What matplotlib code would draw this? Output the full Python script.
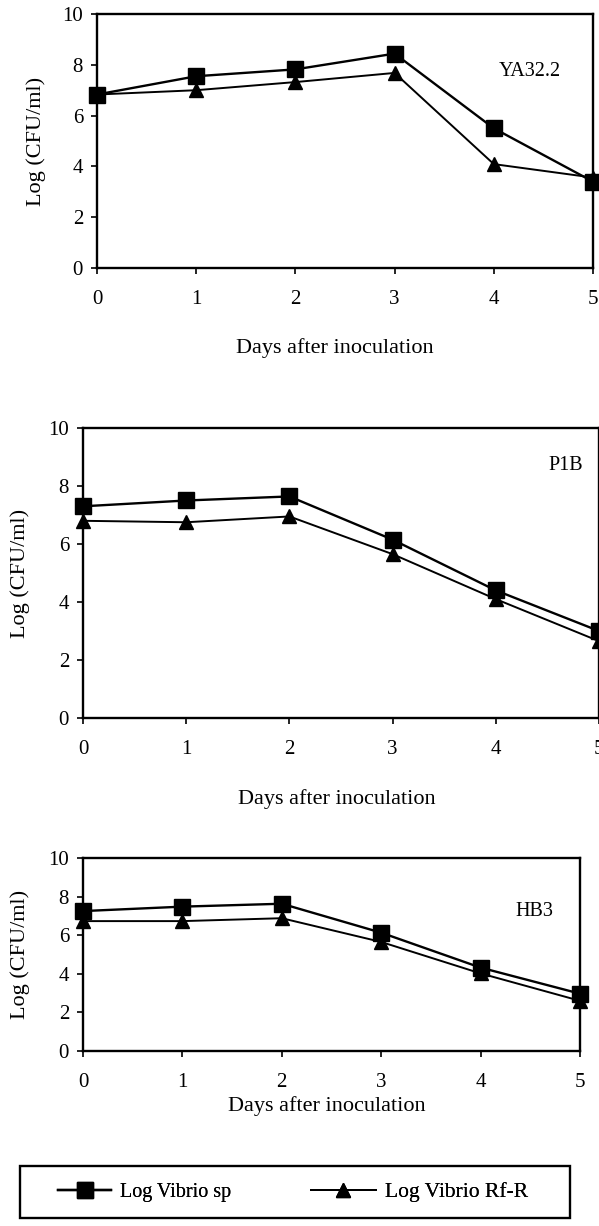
import matplotlib
matplotlib.use("Agg")
import matplotlib.pyplot as plt
from matplotlib.patches import Rectangle

plt.rcParams['font.family'] = ['Liberation Serif', 'DejaVu Serif']

days = [0, 1, 2, 3, 4, 5]
strains = ["YA32.2", "P1B", "HB3"]
vibrio_sp = {
    "YA32.2": [6.83, 7.55, 7.82, 8.44, 5.5, 3.4],
    "P1B": [7.3, 7.5, 7.64, 6.15, 4.4, 3.0],
    "HB3": [7.25, 7.48, 7.63, 6.13, 4.32, 2.97],
}
vibrio_rfr = {
    "YA32.2": [6.83, 7.0, 7.32, 7.68, 4.09, 3.56],
    "P1B": [6.8, 6.75, 6.95, 5.65, 4.1, 2.65],
    "HB3": [6.73, 6.73, 6.88, 5.65, 4.02, 2.6],
}
yticks = [0, 2, 4, 6, 8, 10]
series_labels = ["Log Vibrio sp", "Log Vibrio Rf-R"]

W, H = 599, 1226
fig = plt.figure(figsize=(W / 100, H / 100), dpi=100)

# pixel boxes: left, right, top, bottom
boxes = [(97, 593, 14, 268), (83, 599, 428, 718), (83, 580, 858, 1051)]
ylab_x = [36, 20, 20]
xlab_pos = [(335, 348), (337, 799), (327, 1106)]
ann_pos = [(530, 72), (566, 466), (534, 912)]

handles = None
for i, s in enumerate(strains):
    l, r, t, b = boxes[i]
    ax = fig.add_axes([l / W, 1 - b / H, (r - l) / W, (b - t) / H])
    h1, = ax.plot(days, vibrio_sp[s], color='black', lw=1.7, marker='s', ms=11,
                  clip_on=False, zorder=3)
    h2, = ax.plot(days, vibrio_rfr[s], color='black', lw=1.4, marker='^', ms=10,
                  clip_on=False, zorder=3)
    handles = [h1, h2]
    ax.set_xlim(0, 5)
    ax.set_ylim(0, 10)
    ax.set_xticks(days)
    ax.set_yticks(yticks)
    ax.tick_params(direction='out', length=4, width=1.2, labelsize=15, pad=12)
    ax.tick_params(axis='y', pad=6)
    for sp in ax.spines.values():
        sp.set_linewidth(1.7)
    fig.text(ylab_x[i] / W, 1 - (t + b) / 2 / H, "Log (CFU/ml)", rotation=90,
             ha='center', va='center', fontsize=16)
    fig.text(xlab_pos[i][0] / W, 1 - xlab_pos[i][1] / H,
             "Days after inoculation", ha='center', va='center', fontsize=16)
    fig.text(ann_pos[i][0] / W, 1 - ann_pos[i][1] / H, s, ha='center',
             va='center', fontsize=14.5)

# legend frame
fig.add_artist(Rectangle((20 / W, 1 - 1218 / H), 550 / W, 52 / H,
                         transform=fig.transFigure, fill=False,
                         edgecolor='black', lw=1.7))
leg_x = [58, 311]
leg_len = [2.65, 3.0]
leg_fs = [14.5, 15.5]
for hnd, lab, x, hl, fs in zip(handles, series_labels, leg_x, leg_len, leg_fs):
    lg = fig.legend([hnd], [lab], loc='center left',
                    bbox_to_anchor=(x / W, 1 - 1192 / H), fontsize=fs,
                    frameon=False, handlelength=hl, handletextpad=0.45,
                    borderpad=0, borderaxespad=0)
    fig.add_artist(lg)

fig.savefig("out.png", dpi=100)
